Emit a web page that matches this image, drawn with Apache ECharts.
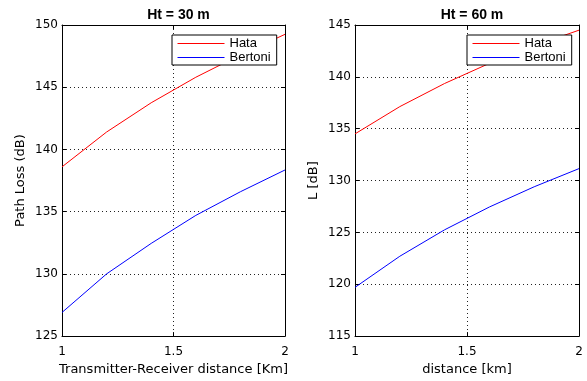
<!DOCTYPE html>
<html><head><meta charset="utf-8">
<script src="https://cdn.jsdelivr.net/npm/echarts@6/dist/echarts.min.js"></script>
<style>html,body{margin:0;padding:0;background:#fff}#c{width:587px;height:381px}</style>
</head><body><div id="c"></div>
<script>
const distance = [1, 1.2, 1.4, 1.6, 1.8, 2];
const hata30 = [138.6, 141.4, 143.75, 145.8, 147.6, 149.25];
const bertoni30 = [126.9, 130.0, 132.45, 134.7, 136.6, 138.35];
const hata60 = [134.5, 137.13, 139.36, 141.3, 143.0, 144.5];
const bertoni60 = [119.7, 122.7, 125.25, 127.45, 129.4, 131.15];
const titles = ['Ht = 30 m', 'Ht = 60 m'];
const xNames = ['Transmitter-Receiver distance [Km]', 'distance [km]'];
const yNames = ['Path Loss (dB)', 'L [dB]'];
const yRanges = [[125, 150], [115, 145]];
const legendNames = ['Hata', 'Bertoni'];
const colors = ['#ff0000', '#0000ff'];

const FONT = '"Liberation Sans", Arial, sans-serif';
const WFONT = '"DejaVu Sans", sans-serif';
const pair = (xs, ys) => xs.map((x, i) => [x, ys[i]]);
const grids = [
  {left: 62, top: 25, width: 223, height: 319},
  {left: 355, top: 25, width: 224, height: 319}
];
const xAxes = [], yAxes = [];
grids.forEach((g, i) => {
  xAxes.push({
    type: 'value', gridIndex: i, min: 1, max: 2, interval: 0.5,
    name: xNames[i], nameLocation: 'middle', nameGap: 25,
    nameTextStyle: {color: '#000', fontSize: 13, fontFamily: WFONT},
    axisLine: {lineStyle: {color: '#000', width: 1}},
    axisTick: {inside: true, length: 4, lineStyle: {color: '#000'}},
    axisLabel: {color: '#000', fontSize: 12, fontFamily: WFONT, margin: 10},
    splitLine: {show: true, lineStyle: {color: '#222', type: [1, 3], width: 1}}
  });
  xAxes.push({
    type: 'value', gridIndex: i, min: 1, max: 2, interval: 0.5, position: 'top',
    axisLine: {lineStyle: {color: '#000'}},
    axisTick: {inside: true, length: 4, lineStyle: {color: '#000'}},
    axisLabel: {show: false}, splitLine: {show: false}
  });
  yAxes.push({
    type: 'value', gridIndex: i, min: yRanges[i][0], max: yRanges[i][1], interval: 5,
    name: yNames[i], nameLocation: 'middle', nameGap: 35,
    nameTextStyle: {color: '#000', fontSize: 13, fontFamily: WFONT},
    axisLine: {show: true, lineStyle: {color: '#000', width: 1}},
    axisTick: {show: true, inside: true, length: 4, lineStyle: {color: '#000'}},
    axisLabel: {color: '#000', fontSize: 12, fontFamily: WFONT, margin: 4},
    splitLine: {show: true, lineStyle: {color: '#222', type: [1, 3], width: 1}}
  });
  yAxes.push({
    type: 'value', gridIndex: i, min: yRanges[i][0], max: yRanges[i][1], interval: 5, position: 'right',
    axisLine: {show: true, lineStyle: {color: '#000'}},
    axisTick: {show: true, inside: true, length: 4, lineStyle: {color: '#000'}},
    axisLabel: {show: false}, splitLine: {show: false}
  });
});
const mk = (name, data, color, gi) => ({
  name, type: 'line', xAxisIndex: gi * 2, yAxisIndex: gi * 2,
  data, symbol: 'none', showSymbol: false, animation: false, color,
  lineStyle: {color, width: 1}, itemStyle: {color}
});
const series = [
  mk(legendNames[0], pair(distance, hata30), colors[0], 0),
  mk(legendNames[1], pair(distance, bertoni30), colors[1], 0),
  mk(legendNames[0], pair(distance, hata60), colors[0], 1),
  mk(legendNames[1], pair(distance, bertoni60), colors[1], 1)
];
const legendCommon = {
  data: legendNames.map((n, i) => ({
    name: n,
    itemStyle: {opacity: 0},
    lineStyle: {color: colors[i], width: 1, opacity: 1}
  })),
  orient: 'vertical', top: 35,
  backgroundColor: '#fff', borderColor: '#000', borderWidth: 1, borderRadius: 0,
  padding: [2, 6, 1, 5], itemGap: 1, itemWidth: 47, itemHeight: 11,
  textStyle: {color: '#000', fontSize: 13, fontFamily: FONT, lineHeight: 12},
  selectedMode: false
};
const chart = echarts.init(document.getElementById('c'), null, {renderer: 'canvas'});
chart.setOption({
  animation: false,
  backgroundColor: '#fff',
  title: titles.map((t, i) => ({
    text: t, left: grids[i].left + grids[i].width / 2, top: 3, textAlign: 'center',
    textStyle: {color: '#000', fontSize: 14, fontWeight: 'bold', fontFamily: FONT}
  })),
  grid: grids,
  xAxis: xAxes,
  yAxis: yAxes,
  legend: [
    Object.assign({}, legendCommon, {left: 172}),
    Object.assign({}, legendCommon, {left: 467})
  ],
  series
});
</script></body></html>
